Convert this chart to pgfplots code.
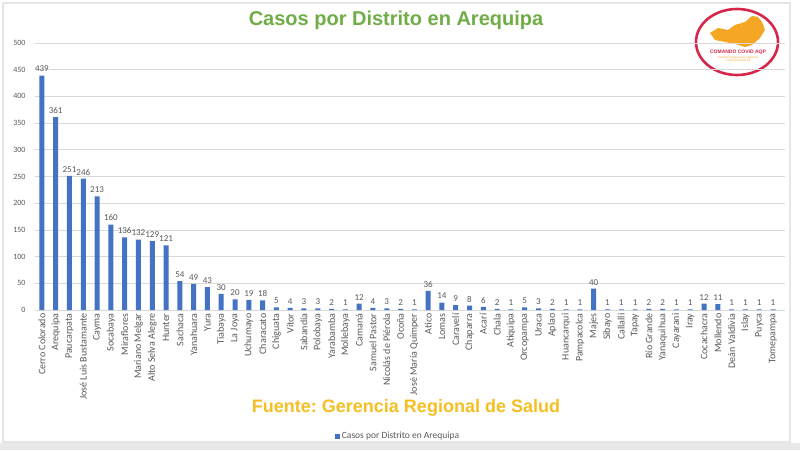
\documentclass[border=0pt]{standalone}
\usepackage{fontspec}
\setmainfont{Carlito}
\newfontfamily\arialfont{Liberation Sans}
\usepackage{pgfplots}
\pgfplotsset{compat=1.18}
\frenchspacing
\definecolor{barblue}{HTML}{4472C4}
\definecolor{titlegreen}{HTML}{70AD47}
\definecolor{fuente}{HTML}{F5BF24}
\definecolor{labgray}{HTML}{595959}
\definecolor{gridgray}{HTML}{D9D9D9}
\definecolor{logored}{HTML}{D7264A}
\definecolor{logoorange}{HTML}{F5A623}
\begin{document}
\begin{tikzpicture}[x=1pt,y=1pt]
\fill[white] (0,0) rectangle (800,450);
\fill[gray!18] (0,0) rectangle (800,7);
\draw[gray!20, line width=1.2pt] (3,8) rectangle (790,447);
% logo
\draw[logored, line width=2.6pt, fill=white] (737,408) ellipse [x radius=41, y radius=33];
\fill[logoorange] (710,417) -- (718,422) -- (728,420) -- (735,425) -- (745,428) -- (752,434) -- (758,433) -- (762,428) -- (765,420) -- (760,412) -- (752,405) -- (745,403) -- (735,406) -- (725,408) -- (715,410) -- cycle;
\node[font=\arialfont\bfseries\fontsize{5}{5}\selectfont, text=logored] at (738,398) {COMANDO COVID AQP};
\node[font=\arialfont\fontsize{2.8}{3}\selectfont, text=logoorange, align=center] at (738,391) {Comisi\'on Regional de Vigilancia\\contra el COVID-19};
% titles
\node[font=\arialfont\bfseries\fontsize{20}{22}\selectfont, text=titlegreen] at (396,430) {Casos por Distrito en Arequipa};
\node[font=\arialfont\bfseries\fontsize{18}{20}\selectfont, text=fuente] at (406,42) {Fuente: Gerencia Regional de Salud};
\begin{axis}[
  at={(35pt,140pt)}, anchor=south west,
  scale only axis, width=750pt, height=267pt,
  xmin=-0.5, xmax=53.87, ymin=0, ymax=500,
  ytick={0,50,...,500},
  ymajorgrids, grid style={gridgray, line width=0.7pt},
  axis line style={draw=none},
  major tick length=0pt,
  /pgf/number format/assume math mode=true,
  yticklabel style={font=\fontsize{8}{9}\selectfont, text=labgray, xshift=-6pt},
  xtick=data,
  xticklabels={Cerro Colorado,Arequipa,Paucarpata,José Luis Bustamante,Cayma,Socabaya,Miraflores,Mariano Melgar,Alto Selva Alegre,Hunter,Sachaca,Yanahuara,Yura,Tiabaya,La Joya,Uchumayo,Characato,Chiguata,Vítor,Sabandía,Polobaya,Yarabamba,Mollebaya,Camaná,Samuel Pastor,Nicolás de Piérola,Ocoña,José María Quimper,Atico,Lomas,Caravelí,Chaparra,Acarí,Chala,Atiquipa,Orcopampa,Uraca,Aplao,Huancarqui,Pampacolca,Majes,Sibayo,Callalli,Tapay,Río Grande,Yanaquihua,Cayarani,Iray,Cocachacra,Mollendo,Deán Valdivia,Islay,Puyca,Tomepampa},
  xticklabel style={rotate=90, anchor=east, font=\fontsize{10}{11}\selectfont, text=labgray},
  ybar, bar width=5pt,
  nodes near coords,
  nodes near coords style={font=\fontsize{9}{10}\selectfont, text=labgray},
  legend style={at={(0.484,-0.472)}, anchor=center, draw=none, fill=none, font=\fontsize{9.5}{10}\selectfont, text=labgray, inner sep=1pt},
  legend image code/.code={\fill[barblue] (0pt,-2.5pt) rectangle (5pt,2.5pt);},
]
\addplot[fill=barblue, draw=none] coordinates {
(0,439) (1,361) (2,251) (3,246) (4,213) (5,160) (6,136) (7,132) (8,129) (9,121)
(10,54) (11,49) (12,43) (13,30) (14,20) (15,19) (16,18) (17,5) (18,4) (19,3)
(20,3) (21,2) (22,1) (23,12) (24,4) (25,3) (26,2) (27,1) (28,36) (29,14)
(30,9) (31,8) (32,6) (33,2) (34,1) (35,5) (36,3) (37,2) (38,1) (39,1)
(40,40) (41,1) (42,1) (43,1) (44,2) (45,2) (46,1) (47,1) (48,12) (49,11)
(50,1) (51,1) (52,1) (53,1)};
\addlegendentry{Casos por Distrito en Arequipa}
\end{axis}
\end{tikzpicture}
\end{document}
